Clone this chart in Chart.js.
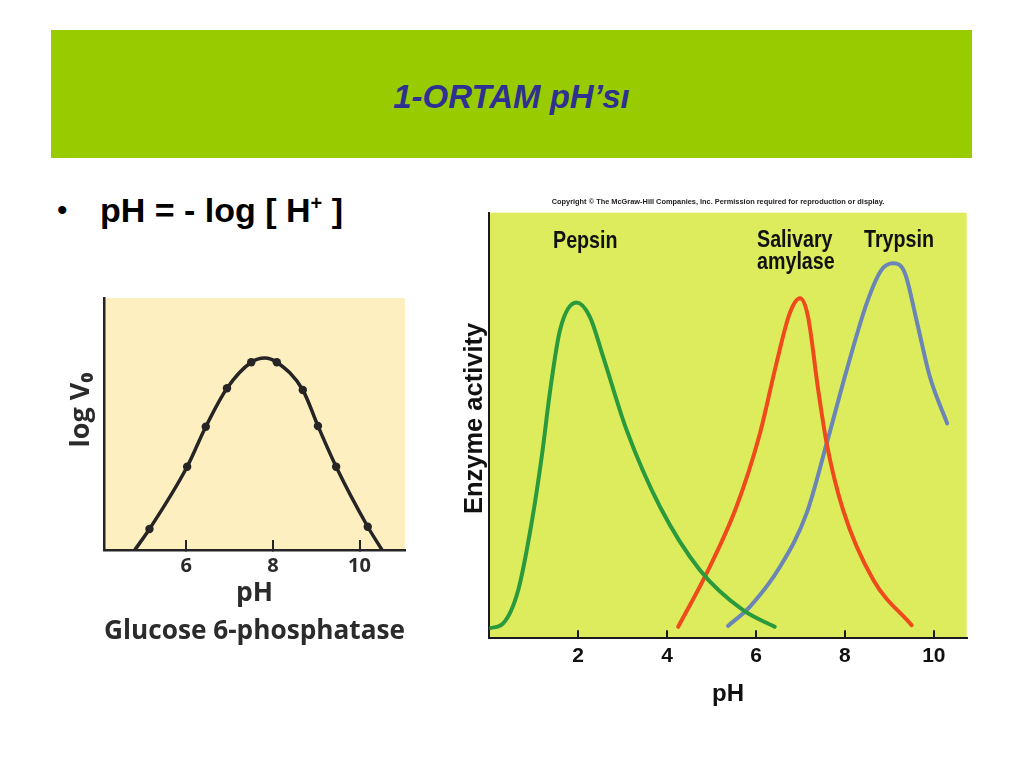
<!DOCTYPE html>
<html lang="tr">
<head>
<meta charset="UTF-8">
<title>1-ORTAM pH’sı</title>
<script src="https://cdn.jsdelivr.net/npm/chart.js@4.4.1/dist/chart.umd.min.js"></script>
<style>
  body {
    margin: 0;
    width: 1024px;
    height: 768px;
    background: #ffffff;
    position: relative;
    overflow: hidden;
    font-family: 'Liberation Sans', Arial, sans-serif;
  }

  .banner {
    position: absolute;
    left: 51px;
    top: 30px;
    width: 921px;
    height: 128px;
    background: #99cc00;
  }

  .banner h1 {
    margin: 0;
    position: absolute;
    left: 0;
    right: 0;
    top: 48px;
    text-align: center;
    font: italic bold 33px/38px 'Liberation Sans', Arial, sans-serif;
    color: #2e3192;
  }

  .dot {
    position: absolute;
    left: 57px;
    top: 190px;
    font: 30px/40px 'Liberation Sans', Arial, sans-serif;
  }

  .bullet {
    position: absolute;
    left: 100px;
    top: 190px;
    font: bold 34px/40px 'Liberation Sans', Arial, sans-serif;
    color: #000;
  }

  .bullet sup { font-size: 20px; vertical-align: 12px; line-height: 0; }

  .copy {
    position: absolute;
    left: 518px;
    width: 400px;
    top: 197px;
    text-align: center;
    font: bold 7.4px/10px 'Liberation Sans', Arial, sans-serif;
    color: #222;
  }

  .lbl {
    position: absolute;
    font: bold 24px/22px 'Liberation Sans', Arial, sans-serif;
    color: #111;
    transform: scaleX(0.82);
    transform-origin: left top;
    white-space: nowrap;
  }

  canvas { position: absolute; }
  #gluc { left: 60px; top: 290px; }
  #enz { left: 440px; top: 190px; }
</style>
</head>
<body>
  <div class="banner"><h1>1-ORTAM pH’sı</h1></div>
  <div class="dot">•</div>
  <div class="bullet">pH = - log [ H<sup>+</sup> ]</div>

  <canvas id="gluc" width="360" height="360"></canvas>
  <canvas id="enz" width="560" height="540"></canvas>

  <div class="copy">Copyright © The McGraw-Hill Companies, Inc. Permission required for reproduction or display.</div>
  <div class="lbl" style="left:553px; top:229px;">Pepsin</div>
  <div class="lbl" style="left:757px; top:228px;">Salivary<br>amylase</div>
  <div class="lbl" style="left:864px; top:228px;">Trypsin</div>

<script>
// Glucose 6-phosphatase: log V0 against pH (ends of the curve meet the axis)
const glucPh       = [4.81, 5.15, 6.02, 6.45, 6.94, 7.50, 7.81, 8.09, 8.69, 9.04, 9.46, 10.19, 10.52];
const glucLogV     = [0.00, 0.84, 3.33, 4.93, 6.47, 7.51, 7.68, 7.51, 6.40, 4.96, 3.33, 0.93, 0.00];
const glucMeasured = [false, true, true, true, true, true, false, true, true, true, true, true, false];
const glucTicks    = [6, 8, 10];

// Enzyme activity against pH
const pepsinPh  = [0.02, 0.31, 0.65, 0.95, 1.18, 1.37, 1.59, 1.96, 2.26, 2.56, 3.09, 3.84, 4.74, 5.71, 6.42];
const pepsinAct = [0.24, 0.35, 1.13, 2.70, 4.27, 5.83, 7.24, 7.89, 7.56, 6.62, 4.89, 3.09, 1.60, 0.66, 0.27];

const amylasePh  = [4.25, 4.89, 5.56, 6.09, 6.46, 6.76, 6.99, 7.17, 7.40, 7.59, 7.96, 8.64, 9.50];
const amylaseAct = [0.27, 1.53, 3.09, 4.82, 6.46, 7.64, 7.99, 7.56, 5.83, 4.58, 3.01, 1.37, 0.31];

const trypsinPh  = [5.37, 5.86, 6.54, 7.14, 7.59, 8.04, 8.49, 8.82, 9.09, 9.35, 9.61, 9.91, 10.30];
const trypsinAct = [0.29, 0.74, 1.68, 2.94, 4.58, 6.30, 7.87, 8.65, 8.81, 8.58, 7.48, 6.15, 5.05];

const enzTicks = [2, 4, 6, 8, 10];

function toPoints(xs, ys) {
  return xs.map((x, i) => ({ x: x, y: ys[i] }));
}

// fills the plot area with a flat colour
const panelFill = {
  id: 'panelFill',
  beforeDraw(chart, args, opts) {
    const { ctx, chartArea: a } = chart;
    ctx.save();
    ctx.fillStyle = opts.color;
    ctx.fillRect(a.left, a.top, a.right - a.left, a.bottom - a.top);
    ctx.restore();
  }
};

const ink = '#262424';
const roundFont = "'Open Sans', 'Noto Sans', sans-serif";

new Chart(document.getElementById('gluc'), {
  type: 'line',
  data: {
    datasets: [{
      data: toPoints(glucPh, glucLogV),
      borderColor: ink,
      borderWidth: 3.5,
      backgroundColor: ink,
      pointRadius: glucMeasured.map(m => m ? 4.2 : 0),
      pointBorderWidth: 0,
      cubicInterpolationMode: 'monotone'
    }]
  },
  plugins: [panelFill],
  options: {
    responsive: false,
    animation: false,
    layout: { padding: { left: 0, top: 8, right: 15, bottom: 0 } },
    plugins: {
      legend: { display: false },
      tooltip: { enabled: false },
      panelFill: { color: '#fdefc0' }
    },
    scales: {
      x: {
        type: 'linear',
        min: 4.1,
        max: 11.05,
        afterBuildTicks: s => { s.ticks = glucTicks.map(v => ({ value: v })); },
        afterFit: s => { s.height = 100; },
        border: { color: ink, width: 2.5 },
        grid: { drawOnChartArea: false, tickLength: -10, color: ink, lineWidth: 2 },
        ticks: { padding: 14, color: '#2b2b2b', font: { family: roundFont, weight: 'bold', size: 20 } },
        title: {
          display: true,
          text: ['pH', 'Glucose 6-phosphatase'],
          color: '#2b2b2b',
          font: { family: roundFont, weight: 'bold', size: 26.5, lineHeight: 1.42 },
          padding: { top: 0, bottom: 0 }
        }
      },
      y: {
        min: 0,
        max: 10.08,
        afterFit: s => { s.width = 44; },
        border: { color: ink, width: 2.5 },
        grid: { drawOnChartArea: false, drawTicks: false },
        ticks: { display: false },
        title: {
          display: true,
          text: '\u00a0\u00a0\u00a0\u00a0log V₀',
          color: '#2b2b2b',
          font: { family: roundFont, weight: 'bold', size: 27 },
          padding: { top: 5, bottom: 0 }
        }
      }
    }
  }
});

const condFont = "'Liberation Sans Narrow', 'Liberation Sans', Arial, sans-serif";

new Chart(document.getElementById('enz'), {
  type: 'line',
  data: {
    datasets: [
      { label: 'Pepsin', data: toPoints(pepsinPh, pepsinAct), borderColor: '#2a9a3c' },
      { label: 'Salivary amylase', data: toPoints(amylasePh, amylaseAct), borderColor: '#ee4a1c' },
      { label: 'Trypsin', data: toPoints(trypsinPh, trypsinAct), borderColor: '#6b85b6' }
    ]
  },
  plugins: [panelFill],
  options: {
    responsive: false,
    animation: false,
    datasets: {
      line: { borderWidth: 4, pointRadius: 0, cubicInterpolationMode: 'monotone', borderCapStyle: 'round' }
    },
    layout: { padding: { left: 0, top: 22.7, right: 33.3, bottom: 0 } },
    plugins: {
      legend: { display: false },
      tooltip: { enabled: false },
      panelFill: { color: '#dcec5c' }
    },
    scales: {
      x: {
        type: 'linear',
        min: 0,
        max: 10.74,
        afterBuildTicks: s => { s.ticks = enzTicks.map(v => ({ value: v })); },
        afterFit: s => { s.height = 91.7; },
        border: { color: '#1a1a1a', width: 2 },
        grid: { drawOnChartArea: false, tickLength: -8, color: '#1a1a1a', lineWidth: 2 },
        ticks: { padding: 13, color: '#111', font: { family: condFont, weight: 'bold', size: 21 } },
        title: {
          display: true,
          text: 'pH',
          color: '#111',
          font: { family: condFont, weight: 'bold', size: 24 },
          padding: { top: 0, bottom: 21 }
        }
      },
      y: {
        min: 0,
        max: 10,
        afterFit: s => { s.width = 49.3; },
        border: { color: '#1a1a1a', width: 2 },
        grid: { drawOnChartArea: false, drawTicks: false },
        ticks: { display: false },
        title: {
          display: true,
          text: '\u00a0\u00a0Enzyme activity',
          color: '#111',
          font: { family: "'Liberation Sans', Arial, sans-serif", weight: 'bold', size: 25.5 },
          padding: { top: 20, bottom: 0 }
        }
      }
    }
  }
});
</script>
</body>
</html>
